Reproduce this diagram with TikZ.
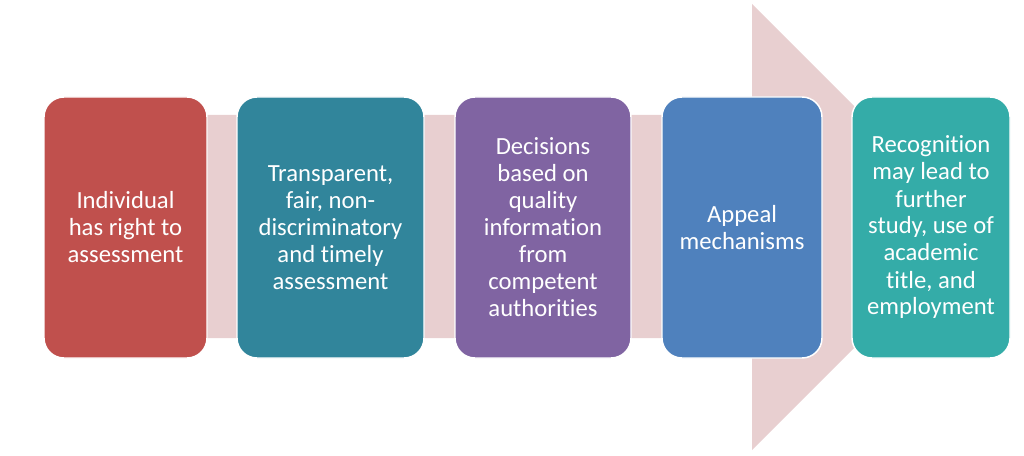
\documentclass[tikz,border=0pt]{standalone}
\usepackage{fontspec}
\setmainfont{Carlito}[RawFeature=-liga]
\definecolor{stagered}{RGB}{192, 80, 77}
\definecolor{stageteal}{RGB}{49, 133, 155}
\definecolor{stagepurple}{RGB}{128, 100, 162}
\definecolor{stageblue}{RGB}{79, 129, 189}
\definecolor{stagegreen}{RGB}{52, 172, 168}
\definecolor{arrowpink}{RGB}{232, 207, 208}
\usetikzlibrary{positioning}

\begin{document}
\begin{tikzpicture}[x=0.75pt, y=-0.75pt,
  stagebox/.style={draw=white, line width=1.1pt, rounded corners=15pt, minimum height=195.75pt,
    inner sep=2pt, outer sep=0pt, align=center, text=white,
    font=\fontsize{18.5}{20.25}\selectfont}]
  \useasboundingbox (0,0) rectangle (1024,456);
  % background arrow
  \fill[arrowpink] (150,115) -- (752,115) -- (752,4) -- (975,227) -- (752,450) -- (752,338) -- (150,338) -- cycle;
  % stages
  \node[stagebox, fill=stagered, minimum width=122.25pt] (individual) at (125.5,227.5)
    {Individual\\has right to\\assessment};
  \node[stagebox, fill=stageteal, minimum width=140.25pt] (transparent) at (330.5,227.5)
    {Transparent,\\fair, non-\\discriminatory\\and timely\\assessment};
  \node[stagebox, fill=stagepurple, minimum width=132pt] (decisions) at (543,227.5)
    {Decisions\\based on\\quality\\information\\from\\competent\\authorities};
  \node[stagebox, fill=stageblue, minimum width=120pt] (appeal) at (742,227.5)
    {Appeal\\mechanisms};
  \node[stagebox, fill=stagegreen, minimum width=118.5pt] (recognition) at (931,227.5)
    {Recognition\\may lead to\\further\\study, use of\\academic\\title, and\\employment};
\end{tikzpicture}
\end{document}
